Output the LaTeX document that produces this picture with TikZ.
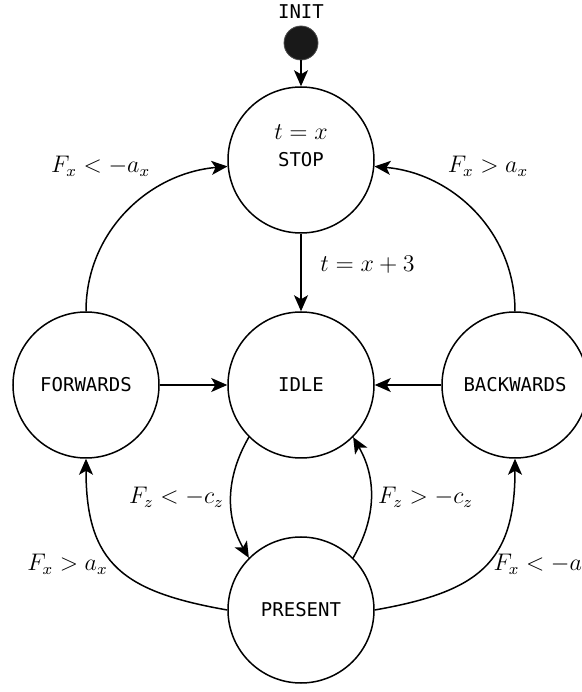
\documentclass[tikz,border=0pt]{standalone}
\usepackage{amsmath}
\usepackage{fontspec}
\setmonofont{DejaVu Sans Mono}
\usetikzlibrary{arrows.meta, positioning}

\begin{document}
\begin{tikzpicture}[
x=0.5pt, y=0.5pt,
node distance=112.5pt,
state/.style={circle, draw=black, line width=0.75pt, minimum size=73pt, inner sep=0pt, align=center, font=\fontsize{9.5}{12}\ttfamily},
initdot/.style={circle, draw=black!70, fill=black!90, minimum size=17pt, inner sep=0pt},
trans/.style={-{Stealth[length=8pt, width=7pt, inset=2pt]}, line width=0.75pt},
cond/.style={font=\fontsize{11.5}{14}\selectfont}
]

\useasboundingbox (0,0) rectangle (582,692);

\node[initdot] (init) at (301,649) {};
\node[font=\fontsize{9.5}{12}\ttfamily, above=0pt of init] (initlbl) {INIT};

\node[state, below of=init, node distance=58.5pt, label={[cond, yshift=14pt]center:$t=x$}] (stop) {STOP};
\node[state, below of=stop] (idle) {IDLE};
\node[state, left of=idle, node distance=107.5pt] (fwd) {FORWARDS};
\node[state, right of=idle, node distance=107pt] (bwd) {BACKWARDS};
\node[state, below of=idle] (present) {PRESENT};

\draw[trans] (init) -- (stop);
\draw[trans] (stop) -- node[cond, right=6pt, pos=0.4] {$t=x+3$} (idle);
\draw[trans] (fwd) -- (idle);
\draw[trans] (bwd) -- (idle);

% back to STOP
\draw[trans] (fwd.north) to[out=90, in=185] node[cond, pos=1, left=35pt] {$F_x<-a_x$} (stop.185);
\draw[trans] (bwd.north) to[out=90, in=-5] node[cond, pos=1, right=33pt] {$F_x>a_x$} (stop.-5);

% IDLE <-> PRESENT
\draw[trans] (idle.225) to[bend right=30] node[cond, left] {$F_z<-c_z$} (present.135);
\draw[trans] (present.45) to[bend right=30] node[cond, right] {$F_z>-c_z$} (idle.-45);

% PRESENT to the sides
\draw[trans] (present.west) to[out=170, in=-90, looseness=1.3] node[cond, pos=0.52, left] {$F_x>a_x$} (fwd.south);
\draw[trans] (present.east) to[out=10, in=-90, looseness=1.3] node[cond, pos=0.52, right] {$F_x<-a_x$} (bwd.south);

\end{tikzpicture}
\end{document}
